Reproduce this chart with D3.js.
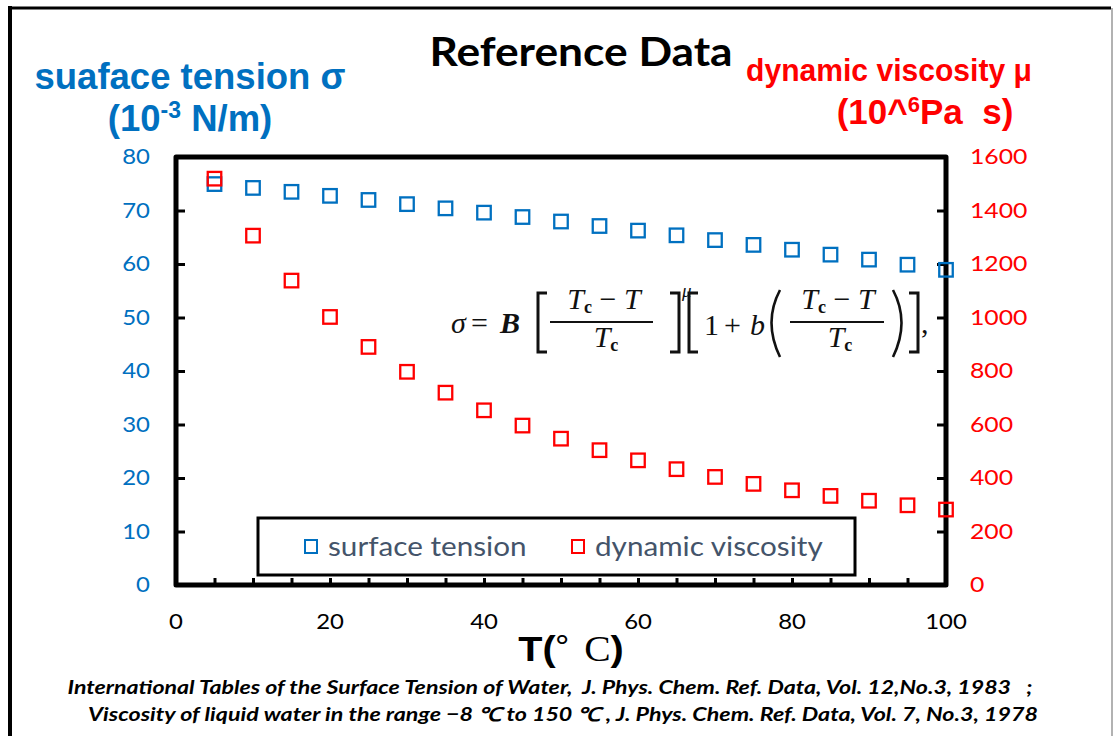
<!DOCTYPE html>
<html>
<head>
<meta charset="utf-8">
<script src="https://cdn.jsdelivr.net/npm/d3@7"></script>
<style>
  html, body { margin: 0; padding: 0; background: #fff; }
  svg { display: block; }
</style>
</head>
<body>
<svg id="chart" width="1115" height="736"></svg>
<script>
// Temperatures (°C) at which both properties are tabulated
const temperatures = [5, 10, 15, 20, 25, 30, 35, 40, 45, 50, 55, 60, 65, 70, 75, 80, 85, 90, 95, 100];
// Surface tension of water, 10^-3 N/m
const surfaceTension = [74.94, 74.22, 73.49, 72.74, 71.97, 71.19, 70.40, 69.60, 68.78, 67.94,
                        67.10, 66.24, 65.36, 64.47, 63.57, 62.67, 61.75, 60.82, 59.87, 58.91];
// Dynamic viscosity of water, 10^-6 Pa s
const viscosity = [1519, 1306, 1138, 1002, 890, 797, 719, 653, 596, 547,
                   504, 466, 433, 404, 378, 354, 333, 315, 298, 282];

const xTicks = [0, 20, 40, 60, 80, 100];
const xMinorTicks = d3.range(5, 100, 5);
const leftTicks = [0, 10, 20, 30, 40, 50, 60, 70, 80];
const rightTicks = [0, 200, 400, 600, 800, 1000, 1200, 1400, 1600];
const seriesNames = ["surface tension", "dynamic viscosity"];

const BLUE = "#0070C0", RED = "#FF0000", LEGEND_TEXT = "#44546A";
const CAL = "Lato, 'Open Sans', sans-serif";
const ARIAL = "'Liberation Sans', Arial, sans-serif";
const SERIF = "'Liberation Serif', 'Times New Roman', serif";

const svg = d3.select("#chart");

// text placed at (x, y) and widened horizontally by sx
function wideText(parent, x, y, sx) {
  return parent.append("text").attr("transform", `translate(${x},${y}) scale(${sx},1)`);
}

// page frame
svg.append("line").attr("x1", 10).attr("y1", 6).attr("x2", 10).attr("y2", 736)
  .attr("stroke", "#000").attr("stroke-width", 4);
svg.append("line").attr("x1", 8).attr("y1", 8).attr("x2", 1111).attr("y2", 8)
  .attr("stroke", "#000").attr("stroke-width", 3);
svg.append("line").attr("x1", 1112).attr("y1", 8).attr("x2", 1112).attr("y2", 736)
  .attr("stroke", "#999").attr("stroke-width", 1.5);

const plot = { left: 176, right: 946, top: 157, bottom: 585 };

const x = d3.scaleLinear().domain([0, 100]).range([plot.left, plot.right]);
const yL = d3.scaleLinear().domain([0, 80]).range([plot.bottom, plot.top]);
const yR = d3.scaleLinear().domain([0, 1600]).range([plot.bottom, plot.top]);

// axis frame
svg.append("rect")
  .attr("x", plot.left).attr("y", plot.top)
  .attr("width", plot.right - plot.left).attr("height", plot.bottom - plot.top)
  .attr("fill", "none").attr("stroke", "#000").attr("stroke-width", 5)
  .attr("stroke-linejoin", "round");

// inward ticks
const tickLen = 7;
svg.append("g").attr("transform", `translate(0,${plot.bottom})`)
  .call(d3.axisTop(x).tickValues(xMinorTicks).tickSize(tickLen).tickFormat(""))
  .call(g => g.select(".domain").remove())
  .call(g => g.selectAll("line").attr("stroke", "#000").attr("stroke-width", 3));
svg.append("g").attr("transform", `translate(${plot.left},0)`)
  .call(d3.axisRight(yL).tickValues(leftTicks.slice(1, -1)).tickSize(tickLen + 2).tickFormat(""))
  .call(g => g.select(".domain").remove())
  .call(g => g.selectAll("line").attr("stroke", "#000").attr("stroke-width", 3));
svg.append("g").attr("transform", `translate(${plot.right},0)`)
  .call(d3.axisLeft(yR).tickValues(rightTicks.slice(1, -1)).tickSize(tickLen + 2).tickFormat(""))
  .call(g => g.select(".domain").remove())
  .call(g => g.selectAll("line").attr("stroke", "#000").attr("stroke-width", 3));

// tick labels
const TSX = 1.14;
svg.append("g").selectAll("text").data(xTicks).join("text")
  .attr("transform", d => `translate(${x(d)},629) scale(${TSX},1)`)
  .attr("text-anchor", "middle").attr("font-family", CAL).attr("font-size", 21)
  .attr("fill", "#000").text(d => d);
svg.append("g").selectAll("text").data(leftTicks).join("text")
  .attr("transform", d => `translate(150,${yL(d) + 7}) scale(${TSX},1)`)
  .attr("text-anchor", "end").attr("font-family", CAL).attr("font-size", 21)
  .attr("fill", BLUE).text(d => d);
svg.append("g").selectAll("text").data(rightTicks).join("text")
  .attr("transform", d => `translate(970,${yR(d) + 7}) scale(${TSX + 0.04},1)`)
  .attr("text-anchor", "start").attr("font-family", CAL).attr("font-size", 21)
  .attr("fill", RED).text(d => d);

// title
wideText(svg, 581, 66, 1.08).attr("text-anchor", "middle")
  .attr("font-family", CAL).attr("font-weight", "bold").attr("font-size", 41)
  .attr("fill", "#000").text("Reference Data");

// left axis title
svg.append("text").attr("x", 190).attr("y", 89).attr("text-anchor", "middle")
  .attr("font-family", ARIAL).attr("font-weight", "bold").attr("font-size", 36.5)
  .attr("fill", BLUE).text("suaface tension σ");
const lt = svg.append("text").attr("x", 190).attr("y", 131).attr("text-anchor", "middle")
  .attr("font-family", ARIAL).attr("font-weight", "bold").attr("font-size", 36.5)
  .attr("fill", BLUE);
lt.append("tspan").text("(10");
lt.append("tspan").attr("dy", -13).attr("font-size", 23).text("-3");
lt.append("tspan").attr("dy", 13).text(" N/m)");

// right axis title
wideText(svg, 889, 81, 0.94).attr("text-anchor", "middle")
  .attr("font-family", ARIAL).attr("font-weight", "bold").attr("font-size", 32)
  .attr("fill", RED).text("dynamic viscosity μ");
const rt = svg.append("text").attr("x", 925).attr("y", 124).attr("text-anchor", "middle")
  .attr("font-family", ARIAL).attr("font-weight", "bold").attr("font-size", 35)
  .attr("fill", RED).attr("xml:space", "preserve");
rt.append("tspan").text("(10^");
rt.append("tspan").attr("dy", -12).attr("font-size", 22).text("6");
rt.append("tspan").attr("dy", 12).text("Pa  s)");

// x axis title
const xt = wideText(svg, 571, 661, 1.1).attr("text-anchor", "middle")
  .attr("font-size", 36).attr("fill", "#000").attr("xml:space", "preserve");
xt.append("tspan").attr("font-family", ARIAL).attr("font-weight", "bold").text("T(");
xt.append("tspan").attr("font-family", CAL).attr("font-size", 28).attr("dy", -5).text("°  ");
xt.append("tspan").attr("font-family", SERIF).attr("dy", 5).text("C");
xt.append("tspan").attr("font-family", ARIAL).attr("font-weight", "bold").text(")");

// data markers (hollow squares)
const S = 13.5;
function squares(values, yScale, color) {
  svg.append("g").selectAll("rect").data(temperatures.map((t, i) => [t, values[i]])).join("rect")
    .attr("x", d => x(d[0]) - S / 2).attr("y", d => yScale(d[1]) - S / 2)
    .attr("width", S).attr("height", S)
    .attr("fill", "none").attr("stroke", color).attr("stroke-width", 2.3);
}
squares(surfaceTension, yL, BLUE);
squares(viscosity, yR, RED);

// surface tension correlation
const eq = svg.append("g").attr("font-family", SERIF).attr("fill", "#111");
const fs = 30;
eq.append("text").attr("x", 451).attr("y", 333).attr("font-size", fs).attr("font-style", "italic").text("σ");
eq.append("text").attr("x", 471).attr("y", 333).attr("font-size", fs).text("=");
eq.append("text").attr("x", 500).attr("y", 333).attr("font-size", fs).attr("font-style", "italic").attr("font-weight", "bold").text("B");
function bracket(x0, open) {
  const w = open ? 9 : -9;
  eq.append("path").attr("d", `M${x0 + w},293 L${x0},293 L${x0},352 L${x0 + w},352`)
    .attr("fill", "none").attr("stroke", "#111").attr("stroke-width", 3);
}
function paren(x0, open) {
  const w = open ? 10 : -10;
  eq.append("path").attr("d", `M${x0 + w},290 Q${x0 - w * 0.7},322 ${x0 + w},357`)
    .attr("fill", "none").attr("stroke", "#111").attr("stroke-width", 2.6);
}
function fraction(cx, x0, x1) {
  const n = eq.append("text").attr("x", cx).attr("y", 309).attr("font-size", fs)
    .attr("text-anchor", "middle").attr("xml:space", "preserve");
  n.append("tspan").attr("font-style", "italic").text("T");
  n.append("tspan").attr("font-size", 18).attr("font-weight", "bold").attr("dy", 4).text("c");
  n.append("tspan").attr("dy", -4).text(" − ");
  n.append("tspan").attr("font-style", "italic").text("T");
  eq.append("line").attr("x1", x0).attr("x2", x1).attr("y1", 322).attr("y2", 322)
    .attr("stroke", "#111").attr("stroke-width", 2);
  const d = eq.append("text").attr("x", cx + 2).attr("y", 347).attr("font-size", fs).attr("text-anchor", "middle");
  d.append("tspan").attr("font-style", "italic").text("T");
  d.append("tspan").attr("font-size", 18).attr("font-weight", "bold").attr("dy", 4).text("c");
}
bracket(538, true);
fraction(604, 550, 653);
bracket(679, false);
eq.append("text").attr("x", 682).attr("y", 297).attr("font-size", 19).attr("font-style", "italic").text("μ");
bracket(689, true);
eq.append("text").attr("x", 704).attr("y", 335).attr("font-size", fs).text("1");
eq.append("text").attr("x", 724).attr("y", 335).attr("font-size", fs).text("+");
eq.append("text").attr("x", 750).attr("y", 335).attr("font-size", fs).attr("font-style", "italic").text("b");
paren(770, true);
fraction(838, 790, 884);
paren(903, false);
bracket(918, false);
eq.append("text").attr("x", 921).attr("y", 333).attr("font-size", fs).text(",");

// legend
svg.append("rect").attr("x", 258).attr("y", 518).attr("width", 597).attr("height", 57)
  .attr("fill", "#fff").attr("stroke", "#000").attr("stroke-width", 3);
const legendItems = [
  { name: seriesNames[0], color: BLUE, x: 311 },
  { name: seriesNames[1], color: RED, x: 578 }
];
const lg = svg.append("g").selectAll("g").data(legendItems).join("g");
lg.append("rect").attr("x", d => d.x - 6).attr("y", 540).attr("width", 12).attr("height", 13)
  .attr("fill", "none").attr("stroke", d => d.color).attr("stroke-width", 2);
lg.append("text").attr("transform", d => `translate(${d.x + 17},556) scale(1.12,1)`)
  .attr("font-family", CAL).attr("font-size", 26.5).attr("fill", LEGEND_TEXT)
  .text(d => d.name);

// sources
const refs = [
  "International Tables of the Surface Tension of Water,  J. Phys. Chem. Ref. Data, Vol. 12,No.3, 1983   ;",
  "Viscosity of liquid water in the range −8 ℃ to 150 ℃ , J. Phys. Chem. Ref. Data, Vol. 7, No.3, 1978"
];
const refPos = [{ cx: 550, w: 965 }, { cx: 563, w: 950 }];
svg.append("g").selectAll("text").data(refs).join("text")
  .attr("x", (d, i) => refPos[i].cx - refPos[i].w / 2).attr("y", (d, i) => 694 + i * 27)
  .attr("textLength", (d, i) => refPos[i].w).attr("lengthAdjust", "spacingAndGlyphs")
  .attr("font-family", CAL).attr("font-style", "italic").attr("font-weight", "bold")
  .attr("font-size", 19).attr("fill", "#000").attr("xml:space", "preserve")
  .text(d => d);
</script>
</body>
</html>
